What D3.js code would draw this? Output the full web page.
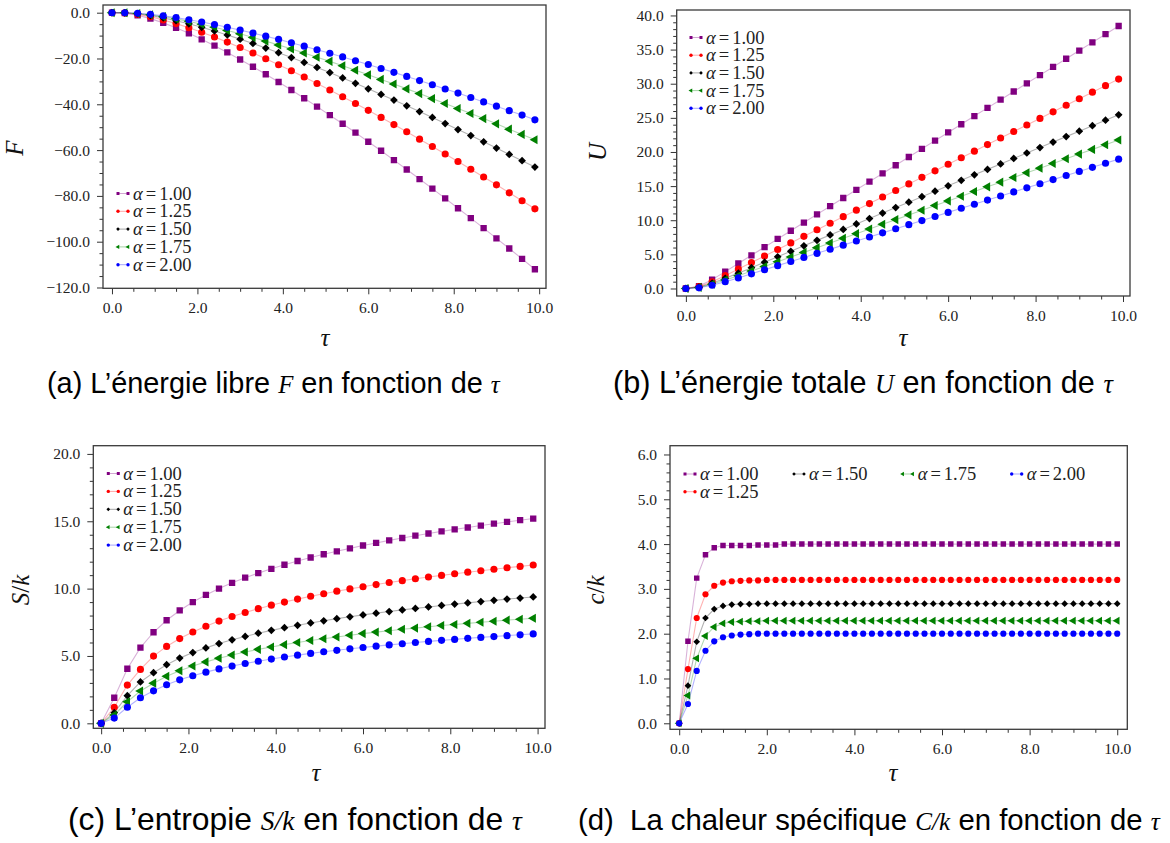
<!DOCTYPE html>
<html><head><meta charset="utf-8">
<script src="https://cdn.jsdelivr.net/npm/d3@7"></script>
<style>body{margin:0;background:#fff;}svg{display:block;}</style>
</head><body>
<svg id="chart" width="1170" height="843"></svg>
<script>
// ---------- data ----------
const tauA = [0,0.3,0.6,0.9,1.2,1.5,1.8,2.1,2.4,2.7,3.0,3.3,3.6,3.9,4.2,4.5,4.8,5.1,5.4,5.7,6.0,6.3,6.6,6.9,7.2,7.5,7.8,8.1,8.4,8.7,9.0,9.3,9.6,9.9];
const tauD = [0,0.2,0.4,0.6,0.8,1.0,1.2,1.4,1.6,1.8,2.0,2.2,2.4,2.6,2.8,3.0,3.2,3.4,3.6,3.8,4.0,4.2,4.4,4.6,4.8,5.0,5.2,5.4,5.6,5.8,6.0,6.2,6.4,6.6,6.8,7.0,7.2,7.4,7.6,7.8,8.0,8.2,8.4,8.6,8.8,9.0,9.2,9.4,9.6,9.8,10.0];
const alphaLabels = ["1.00","1.25","1.50","1.75","2.00"];

const F_100 = [0,-0.22,-1.13,-2.59,-4.45,-6.62,-9.02,-11.64,-14.41,-17.34,-20.43,-23.61,-26.88,-30.27,-33.77,-37.37,-41.03,-44.75,-48.5,-52.38,-56.34,-60.3,-64.37,-68.48,-72.64,-76.82,-81.09,-85.38,-89.68,-94.06,-98.52,-102.98,-107.51,-112.02];
const F_125 = [0,-0.09,-0.72,-1.72,-3.15,-4.77,-6.56,-8.52,-10.62,-12.85,-15.19,-17.6,-20.12,-22.72,-25.36,-28.09,-30.9,-33.74,-36.69,-39.65,-42.64,-45.73,-48.85,-51.99,-55.22,-58.45,-61.68,-64.99,-68.37,-71.73,-75.16,-78.66,-82.12,-85.65];
const F_150 = [0,-0.04,-0.46,-1.26,-2.26,-3.48,-4.86,-6.38,-7.99,-9.73,-11.55,-13.44,-15.43,-17.46,-19.57,-21.71,-23.91,-26.16,-28.51,-30.84,-33.25,-35.68,-38.13,-40.65,-43.17,-45.75,-48.4,-51.04,-53.65,-56.4,-59.12,-61.9,-64.63,-67.41];
const F_175 = [0,-0.03,-0.33,-0.91,-1.72,-2.69,-3.79,-5.03,-6.33,-7.75,-9.23,-10.8,-12.41,-14.08,-15.81,-17.59,-19.43,-21.25,-23.15,-25.13,-27.13,-29.13,-31.13,-33.27,-35.32,-37.52,-39.68,-41.82,-44.01,-46.24,-48.53,-50.86,-53.15,-55.47];
const F_200 = [0,-0.02,-0.24,-0.71,-1.34,-2.14,-3.06,-4.06,-5.17,-6.36,-7.6,-8.9,-10.25,-11.65,-13.11,-14.62,-16.16,-17.73,-19.32,-20.97,-22.63,-24.35,-26.06,-27.83,-29.65,-31.45,-33.3,-35.11,-37.05,-38.96,-40.81,-42.79,-44.72,-46.79];

const U_100 = [0,0.35,1.3,2.47,3.66,4.86,6.06,7.26,8.46,9.66,10.86,12.06,13.26,14.46,15.66,16.86,18.06,19.26,20.46,21.66,22.86,24.06,25.26,26.46,27.66,28.86,30.06,31.26,32.46,33.66,34.86,36.06,37.26,38.46];
const U_125 = [0,0.27,0.98,1.88,2.84,3.8,4.76,5.72,6.68,7.64,8.6,9.56,10.52,11.48,12.44,13.4,14.36,15.32,16.28,17.24,18.2,19.16,20.12,21.08,22.04,23.0,23.96,24.92,25.88,26.84,27.8,28.76,29.72,30.68];
const U_150 = [0,0.2,0.77,1.5,2.25,3.05,3.85,4.65,5.45,6.25,7.05,7.85,8.65,9.45,10.25,11.05,11.85,12.65,13.45,14.25,15.05,15.85,16.65,17.45,18.25,19.05,19.85,20.65,21.45,22.25,23.05,23.85,24.65,25.45];
const U_175 = [0,0.16,0.63,1.25,1.86,2.55,3.23,3.92,4.61,5.29,5.98,6.66,7.35,8.03,8.72,9.41,10.09,10.78,11.46,12.15,12.83,13.52,14.21,14.89,15.58,16.26,16.95,17.63,18.32,19.01,19.69,20.38,21.06,21.75];
const U_200 = [0,0.1,0.47,1.0,1.55,2.15,2.75,3.35,3.95,4.55,5.15,5.75,6.35,6.95,7.55,8.15,8.75,9.35,9.95,10.55,11.15,11.75,12.35,12.95,13.55,14.15,14.75,15.35,15.95,16.55,17.15,17.75,18.35,18.95];

const S_100 = [0,1.9,4.05,5.62,6.76,7.65,8.38,9.0,9.53,10.0,10.43,10.81,11.15,11.47,11.77,12.05,12.31,12.55,12.77,12.99,13.2,13.39,13.58,13.76,13.93,14.09,14.25,14.4,14.54,14.68,14.82,14.95,15.08,15.2];
const S_125 = [0,1.19,2.84,4.0,4.99,5.71,6.29,6.78,7.21,7.59,7.93,8.23,8.51,8.77,9.0,9.22,9.43,9.62,9.81,9.98,10.14,10.3,10.45,10.59,10.73,10.86,10.98,11.1,11.22,11.33,11.44,11.55,11.65,11.75];
const S_150 = [0,0.79,2.05,3.07,3.76,4.35,4.84,5.25,5.6,5.92,6.2,6.45,6.69,6.9,7.1,7.28,7.45,7.61,7.77,7.91,8.05,8.18,8.3,8.42,8.53,8.64,8.75,8.85,8.94,9.04,9.13,9.22,9.3,9.38];
const S_175 = [0,0.62,1.6,2.4,2.98,3.49,3.9,4.26,4.56,4.83,5.07,5.29,5.49,5.67,5.84,6.0,6.15,6.28,6.41,6.54,6.66,6.77,6.87,6.98,7.07,7.17,7.26,7.34,7.42,7.5,7.58,7.66,7.73,7.8];
const S_200 = [0,0.39,1.19,1.9,2.41,2.86,3.23,3.53,3.8,4.04,4.25,4.44,4.61,4.77,4.92,5.06,5.19,5.31,5.42,5.53,5.63,5.73,5.82,5.91,6.0,6.08,6.16,6.23,6.31,6.38,6.44,6.51,6.57,6.64];

const C_100 = [0,1.83,3.24,3.76,3.92,3.97,3.97,3.97,3.97,3.98,3.98,3.98,4.0,4.0,4.0,4.0,4.0,4.0,4.0,4.0,4.0,4.0,4.0,4.0,4.0,4.0,4.0,4.0,4.0,4.0,4.0,4.0,4.0,4.0,4.0,4.0,4.0,4.0,4.0,4.0,4.0,4.0,4.0,4.0,4.0,4.0,4.0,4.0,4.0,4.0,4.0];
const C_125 = [0,1.21,2.35,2.88,3.07,3.14,3.17,3.18,3.19,3.19,3.2,3.2,3.2,3.2,3.2,3.2,3.2,3.2,3.2,3.2,3.2,3.2,3.2,3.2,3.2,3.2,3.2,3.2,3.2,3.2,3.2,3.2,3.2,3.2,3.2,3.2,3.2,3.2,3.2,3.2,3.2,3.2,3.2,3.2,3.2,3.2,3.2,3.2,3.2,3.2,3.2];
const C_150 = [0,0.84,1.82,2.35,2.55,2.62,2.65,2.66,2.66,2.67,2.67,2.67,2.67,2.67,2.67,2.67,2.67,2.67,2.67,2.67,2.67,2.67,2.67,2.67,2.67,2.67,2.67,2.67,2.67,2.67,2.67,2.67,2.67,2.67,2.67,2.67,2.67,2.67,2.67,2.67,2.67,2.67,2.67,2.67,2.67,2.67,2.67,2.67,2.67,2.67,2.67];
const C_175 = [0,0.62,1.45,1.95,2.15,2.23,2.26,2.27,2.28,2.28,2.29,2.29,2.29,2.29,2.29,2.29,2.29,2.29,2.29,2.29,2.29,2.29,2.29,2.29,2.29,2.29,2.29,2.29,2.29,2.29,2.29,2.29,2.29,2.29,2.29,2.29,2.29,2.29,2.29,2.29,2.29,2.29,2.29,2.29,2.29,2.29,2.29,2.29,2.29,2.29,2.29];
const C_200 = [0,0.43,1.17,1.62,1.83,1.92,1.96,1.98,1.99,2.0,2.0,2.0,2.0,2.0,2.0,2.0,2.0,2.0,2.0,2.0,2.0,2.0,2.0,2.0,2.0,2.0,2.0,2.0,2.0,2.0,2.0,2.0,2.0,2.0,2.0,2.0,2.0,2.0,2.0,2.0,2.0,2.0,2.0,2.0,2.0,2.0,2.0,2.0,2.0,2.0,2.0];

const xTicks = [0,2,4,6,8,10];
const yTicksF = [0,-20,-40,-60,-80,-100,-120];
const yTicksU = [0,5,10,15,20,25,30,35,40];
const yTicksS = [0,5,10,15,20];
const yTicksC = [0,1,2,3,4,5,6];

// ---------- styling ----------
const colors = ["#800080","#ff0000","#000000","#008000","#0000ff"];
const markerTypes = ["square","circle","diamond","triLeft","circle"];
const SERIF = "'Liberation Serif','DejaVu Serif',serif";
const SANS = "'Liberation Sans',Arial,sans-serif";

const svg = d3.select("#chart");

function symbolPath(type, area){
  if(type==="square") return {d:d3.symbol(d3.symbolSquare, area)(), rot:0};
  if(type==="circle") return {d:d3.symbol(d3.symbolCircle, area)(), rot:0};
  if(type==="diamond") return {d:d3.symbol(d3.symbolSquare, area*0.75)(), rot:45};
  return {d:d3.symbol(d3.symbolTriangle, area*0.9)(), rot:-90};
}

const panels = [
  {frame:[103,5,546,288.3], xDom:[-0.21,10.16], yDom:[-120.35,3.36], x:tauA,
   ys:[F_100,F_125,F_150,F_175,F_200], yTicks:yTicksF, yMinor:5, mSize:40,
   legend:{x:118, y:193.5, dy:17.8, cols:null}},
  {frame:[676.7,10,1130,296], xDom:[-0.21,10.16], yDom:[-1.1,40.8], x:tauA,
   ys:[U_100,U_125,U_150,U_175,U_200], yTicks:yTicksU, yMinor:1, mSize:40,
   legend:{x:691, y:37.5, dy:17.7, cols:null}},
  {frame:[93.3,445.7,545,728.3], xDom:[-0.18,10.17], yDom:[-0.37,20.61], x:tauA,
   ys:[S_100,S_125,S_150,S_175,S_200], yTicks:yTicksS, yMinor:1, mSize:40,
   legend:{x:108.3, y:473.5, dy:17.9, cols:null}},
  {frame:[670,445.7,1127.3,729.3], xDom:[-0.21,10.23], yDom:[-0.134,6.196], x:tauD,
   ys:[C_100,C_125,C_150,C_175,C_200], yTicks:yTicksC, yMinor:0.2, mSize:30,
   legend:{x:685, y:474, dy:17.7, cols:[[0,0],[0,1],[1,0],[2,0],[3,0]], colX:[685,794,902.7,1011.7]}}
];

panels.forEach(p=>{
  const [x0,y0,x1,y1] = p.frame;
  const xs = d3.scaleLinear().domain(p.xDom).range([x0,x1]);
  const ys = d3.scaleLinear().domain(p.yDom).range([y1,y0]);
  const g = svg.append("g");

  const xMinor = d3.range(0,10.01,0.5).filter(v=>Math.abs(v/2-Math.round(v/2))>1e-6);
  const yMin = d3.range(d3.min(p.yTicks), d3.max(p.yTicks)+1e-6, p.yMinor)
      .filter(v=>!p.yTicks.some(t=>Math.abs(t-v)<1e-6) && v>=p.yDom[0] && v<=p.yDom[1]);
  g.append("g").attr("transform",`translate(0,${y1})`)
    .call(d3.axisBottom(xs).tickValues(xMinor).tickSize(3.5).tickFormat(""))
    .call(s=>s.select(".domain").remove());
  g.append("g").attr("transform",`translate(${x0},0)`)
    .call(d3.axisLeft(ys).tickValues(yMin).tickSize(3.5).tickFormat(""))
    .call(s=>s.select(".domain").remove());
  const fmt = d3.format(".1f");
  const xa = g.append("g").attr("transform",`translate(0,${y1})`)
    .call(d3.axisBottom(xs).tickValues(xTicks).tickSize(6).tickPadding(8).tickFormat(fmt));
  xa.select(".domain").remove();
  const ya = g.append("g").attr("transform",`translate(${x0},0)`)
    .call(d3.axisLeft(ys).tickValues(p.yTicks).tickSize(6).tickPadding(7).tickFormat(fmt));
  ya.select(".domain").remove();
  g.selectAll(".tick line").attr("stroke","#333").attr("stroke-width",1);
  g.selectAll(".tick text").attr("font-family",SERIF).attr("font-size",15.5).attr("fill","#222");

  const clipId = "clip"+Math.round(x0);
  g.append("clipPath").attr("id",clipId).append("rect")
    .attr("x",x0).attr("y",y0).attr("width",x1-x0).attr("height",y1-y0);
  const plot = g.append("g").attr("clip-path",`url(#${clipId})`);
  p.ys.forEach((arr,i)=>{
    const line = d3.line().x((d,j)=>xs(p.x[j])).y(d=>ys(d));
    plot.append("path").attr("d",line(arr)).attr("fill","none")
      .attr("stroke",colors[i]).attr("stroke-opacity",0.3).attr("stroke-width",1.1);
  });
  p.ys.forEach((arr,i)=>{
    const sp = symbolPath(markerTypes[i], p.mSize);
    plot.append("g").selectAll("path").data(arr).join("path")
      .attr("d",sp.d)
      .attr("transform",(d,j)=>`translate(${xs(p.x[j])},${ys(d)}) rotate(${sp.rot})`)
      .attr("fill",colors[i]);
  });

  g.append("rect").attr("x",x0).attr("y",y0).attr("width",x1-x0).attr("height",y1-y0)
    .attr("fill","none").attr("stroke","#3a3a3a").attr("stroke-width",1.3);

  const L = p.legend;
  alphaLabels.forEach((lab,i)=>{
    let lx = L.x, ly = L.y + i*L.dy;
    if(L.cols){ lx = L.colX[L.cols[i][0]]; ly = L.y + L.cols[i][1]*L.dy; }
    const lg = g.append("g").attr("transform",`translate(${lx},${ly})`);
    lg.append("line").attr("x1",0).attr("x2",10).attr("y1",0).attr("y2",0)
      .attr("stroke",colors[i]).attr("stroke-opacity",0.35).attr("stroke-width",1);
    const sp = symbolPath(markerTypes[i], 9);
    [0,10].forEach(mx=>lg.append("path").attr("d",sp.d)
      .attr("transform",`translate(${mx},0) rotate(${sp.rot})`).attr("fill",colors[i]));
    const t = lg.append("text").attr("x",15).attr("y",6)
      .attr("font-family",SERIF).attr("font-size",18.5).attr("fill","#222");
    t.append("tspan").attr("font-style","italic").text("α");
    t.append("tspan").attr("dx",3).text("=");
    t.append("tspan").attr("dx",3).text(lab);
  });
});

function axLabel(x,y,parts,rot){
  const t = svg.append("text").attr("transform",`translate(${x},${y}) rotate(${rot})`)
    .attr("text-anchor","middle").attr("font-family",SERIF).attr("font-size",25).attr("fill","#111");
  parts.forEach(pt=>t.append("tspan").attr("font-style",pt[1]?"italic":"normal").text(pt[0]));
}
axLabel(23,148,[["F",1]],-90);
axLabel(606,152,[["U",1]],-90);
axLabel(29,590,[["S",1],["/",0],["k",1]],-90);
axLabel(604,590,[["c",1],["/",0],["k",1]],-90);
axLabel(325,346,[["τ",1]],0);
axLabel(903,346,[["τ",1]],0);
axLabel(316,781,[["τ",1]],0);
axLabel(893,781,[["τ",1]],0);

// captions fitted to the reference extent
function caption(xl,xr,y,parts){
  const base = 24;
  const t = svg.append("text").attr("x",xl).attr("y",y).attr("text-anchor","start")
    .attr("font-family",SANS).attr("font-size",base).attr("fill","#000");
  const spans = parts.map(pt=>{
    const s = t.append("tspan").text(pt[0]);
    s.attr("data-r", pt[1]?0.86:1);
    if(pt[1]) s.attr("font-family",SERIF).attr("font-style","italic");
    s.attr("font-size", base*(pt[1]?0.86:1));
    return s;
  });
  const w = t.node().getComputedTextLength();
  const k = (xr-xl)/w;
  spans.forEach(s=>s.attr("font-size", base*k*(+s.attr("data-r"))));
}
caption(47,500,393,[["(a) L’énergie libre ",0],["F",1],[" en fonction de ",0],["τ",1]]);
caption(613,1113,393,[["(b) L’énergie totale ",0],["U",1],[" en fonction de ",0],["τ",1]]);
caption(68,522,830,[["(c) L’entropie ",0],["S/k",1],[" en fonction de ",0],["τ",1]]);
caption(578,1160,830,[["(d)\u00a0 La chaleur spécifique ",0],["C/k",1],[" en fonction de ",0],["τ",1]]);
</script>
</body></html>
